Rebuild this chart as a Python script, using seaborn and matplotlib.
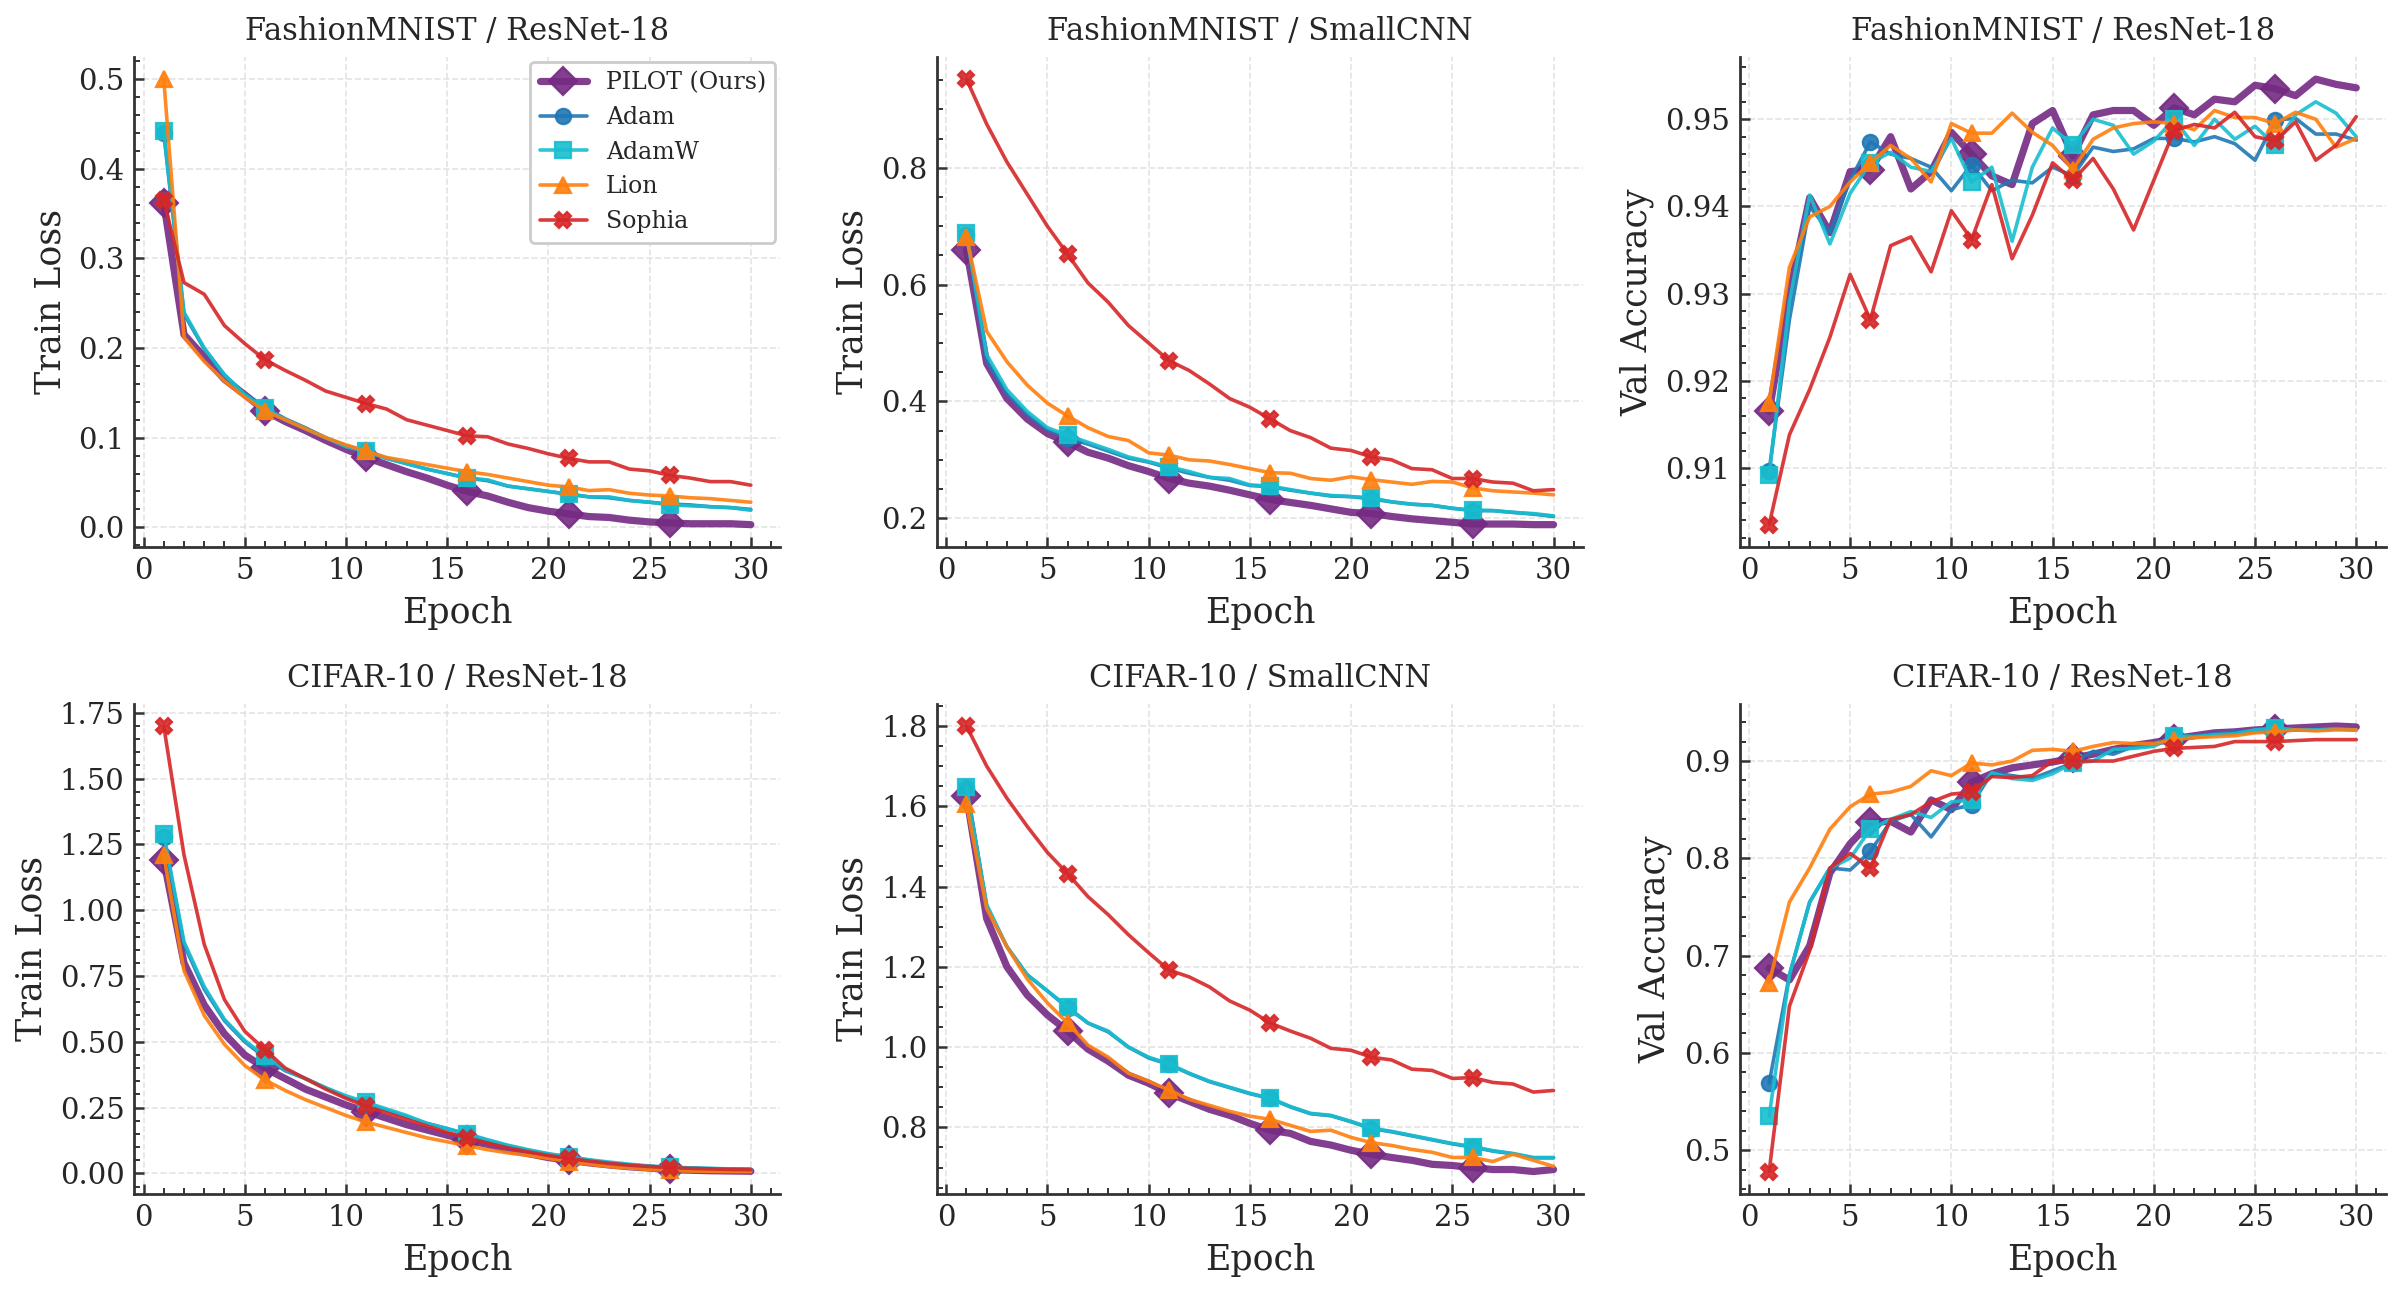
import numpy as np
import matplotlib
matplotlib.use("Agg")
import matplotlib.pyplot as plt
import seaborn as sns
from matplotlib.ticker import AutoMinorLocator

sns.set_theme(style="ticks")
plt.rcParams['font.family'] = ['DejaVu Serif']
plt.rcParams['mathtext.fontset'] = 'dejavuserif'

epochs = np.arange(1, 31)
optimizers = ["PILOT (Ours)", "Adam", "AdamW", "Lion", "Sophia"]
colors = ["#762a83", "#1f77b4", "#17becf", "#ff7f0e", "#d62728"]
markers = ["D", "o", "s", "^", "X"]

# FashionMNIST / ResNet-18 - train loss
fm_res_loss_pilot = [0.362, 0.215, 0.19, 0.165, 0.148, 0.13, 0.118, 0.108, 0.097, 0.087,
                     0.078, 0.07, 0.062, 0.055, 0.047, 0.04, 0.035, 0.028, 0.022, 0.018,
                     0.015, 0.012, 0.011, 0.008, 0.006, 0.005, 0.004, 0.004, 0.004, 0.003]
fm_res_loss_adam = [0.44, 0.238, 0.199, 0.17, 0.149, 0.134, 0.121, 0.111, 0.1, 0.091,
                    0.085, 0.077, 0.071, 0.065, 0.06, 0.055, 0.052, 0.046, 0.043, 0.04,
                    0.037, 0.034, 0.033, 0.03, 0.028, 0.026, 0.025, 0.023, 0.022, 0.02]
fm_res_loss_adamw = [0.442, 0.24, 0.2, 0.17, 0.148, 0.133, 0.12, 0.11, 0.1, 0.09,
                     0.085, 0.077, 0.071, 0.065, 0.06, 0.055, 0.053, 0.046, 0.043, 0.04,
                     0.037, 0.034, 0.034, 0.03, 0.028, 0.025, 0.024, 0.023, 0.022, 0.019]
fm_res_loss_lion = [0.5, 0.212, 0.185, 0.163, 0.145, 0.13, 0.12, 0.11, 0.1, 0.092,
                    0.085, 0.078, 0.074, 0.07, 0.066, 0.062, 0.059, 0.055, 0.051, 0.047,
                    0.045, 0.041, 0.042, 0.038, 0.036, 0.035, 0.033, 0.032, 0.03, 0.028]
fm_res_loss_sophia = [0.365, 0.273, 0.26, 0.225, 0.205, 0.187, 0.175, 0.164, 0.152, 0.145,
                      0.138, 0.132, 0.12, 0.114, 0.108, 0.102, 0.101, 0.093, 0.088, 0.082,
                      0.077, 0.073, 0.073, 0.065, 0.063, 0.058, 0.055, 0.051, 0.051, 0.047]

# FashionMNIST / SmallCNN - train loss
fm_cnn_loss_pilot = [0.66, 0.465, 0.405, 0.37, 0.345, 0.33, 0.313, 0.303, 0.29, 0.28,
                     0.268, 0.26, 0.255, 0.248, 0.24, 0.232, 0.227, 0.222, 0.216, 0.21,
                     0.208, 0.203, 0.199, 0.196, 0.193, 0.19, 0.19, 0.19, 0.189, 0.189]
fm_cnn_loss_adam = [0.685, 0.47, 0.413, 0.378, 0.352, 0.337, 0.327, 0.315, 0.303, 0.296,
                    0.286, 0.277, 0.27, 0.265, 0.256, 0.254, 0.248, 0.243, 0.238, 0.237,
                    0.233, 0.228, 0.224, 0.222, 0.217, 0.213, 0.213, 0.21, 0.207, 0.203]
fm_cnn_loss_adamw = [0.688, 0.48, 0.42, 0.383, 0.355, 0.342, 0.33, 0.318, 0.305, 0.297,
                     0.288, 0.28, 0.27, 0.268, 0.257, 0.255, 0.249, 0.243, 0.239, 0.237,
                     0.235, 0.228, 0.224, 0.222, 0.217, 0.214, 0.213, 0.21, 0.208, 0.204]
fm_cnn_loss_lion = [0.682, 0.52, 0.468, 0.428, 0.397, 0.375, 0.355, 0.34, 0.333, 0.312,
                    0.308, 0.3, 0.298, 0.292, 0.285, 0.278, 0.277, 0.268, 0.265, 0.271,
                    0.266, 0.262, 0.258, 0.263, 0.262, 0.252, 0.247, 0.245, 0.243, 0.24]
fm_cnn_loss_sophia = [0.952, 0.875, 0.81, 0.755, 0.7, 0.652, 0.603, 0.57, 0.53, 0.5,
                      0.47, 0.453, 0.43, 0.405, 0.39, 0.37, 0.35, 0.338, 0.32, 0.316,
                      0.305, 0.3, 0.285, 0.283, 0.268, 0.268, 0.262, 0.26, 0.247, 0.249]

# FashionMNIST / ResNet-18 - val accuracy
fm_res_acc_pilot = [0.9165, 0.930, 0.941, 0.937, 0.944, 0.9442, 0.948, 0.942, 0.944, 0.9485,
                    0.946, 0.9435, 0.9425, 0.9495, 0.951, 0.9458, 0.9505, 0.951, 0.951, 0.9493,
                    0.9513, 0.9505, 0.9523, 0.952, 0.9539, 0.9535, 0.9527, 0.9546, 0.954, 0.9536]
fm_res_acc_adam = [0.9097, 0.927, 0.940, 0.937, 0.943, 0.9474, 0.946, 0.9455, 0.9445, 0.9418,
                   0.9448, 0.9418, 0.943, 0.9427, 0.9445, 0.9435, 0.9468, 0.9463, 0.9466, 0.9478,
                   0.9478, 0.9474, 0.948, 0.9472, 0.9453, 0.9499, 0.9501, 0.9483, 0.9483, 0.9476]
fm_res_acc_adamw = [0.9092, 0.929, 0.9413, 0.9357, 0.9415, 0.945, 0.9462, 0.9445, 0.944, 0.9478,
                    0.9428, 0.9445, 0.936, 0.9445, 0.949, 0.947, 0.950, 0.9493, 0.946, 0.9475,
                    0.950, 0.947, 0.950, 0.9477, 0.9492, 0.947, 0.9505, 0.952, 0.9507, 0.948]
fm_res_acc_lion = [0.9175, 0.933, 0.9388, 0.940, 0.9428, 0.945, 0.947, 0.9455, 0.9428, 0.9495,
                   0.9484, 0.9484, 0.9507, 0.9485, 0.947, 0.9442, 0.9477, 0.949, 0.9495, 0.9497,
                   0.9495, 0.9488, 0.951, 0.9502, 0.9502, 0.9495, 0.9508, 0.950, 0.9468, 0.9478]
fm_res_acc_sophia = [0.9035, 0.9138, 0.919, 0.925, 0.9322, 0.927, 0.9355, 0.9365, 0.9325, 0.9395,
                     0.9362, 0.9425, 0.934, 0.939, 0.945, 0.943, 0.9455, 0.942, 0.9373, 0.943,
                     0.9487, 0.9494, 0.949, 0.9508, 0.948, 0.9475, 0.9497, 0.9453, 0.947, 0.9503]

# CIFAR-10 / ResNet-18 - train loss
c10_res_loss_pilot = [1.19, 0.8, 0.64, 0.53, 0.45, 0.4, 0.36, 0.32, 0.29, 0.26,
                      0.235, 0.21, 0.185, 0.165, 0.145, 0.125, 0.11, 0.09, 0.075, 0.06,
                      0.05, 0.04, 0.032, 0.025, 0.02, 0.015, 0.012, 0.01, 0.009, 0.008]
c10_res_loss_adam = [1.28, 0.87, 0.7, 0.58, 0.5, 0.44, 0.39, 0.36, 0.325, 0.29,
                     0.265, 0.24, 0.215, 0.19, 0.17, 0.148, 0.125, 0.105, 0.088, 0.073,
                     0.062, 0.05, 0.04, 0.032, 0.026, 0.022, 0.02, 0.018, 0.016, 0.015]
c10_res_loss_adamw = [1.29, 0.88, 0.71, 0.585, 0.505, 0.445, 0.395, 0.36, 0.325, 0.295,
                      0.27, 0.245, 0.22, 0.19, 0.17, 0.15, 0.128, 0.107, 0.09, 0.075,
                      0.063, 0.052, 0.043, 0.035, 0.028, 0.024, 0.021, 0.019, 0.017, 0.016]
c10_res_loss_lion = [1.21, 0.77, 0.6, 0.49, 0.41, 0.355, 0.315, 0.28, 0.25, 0.22,
                     0.195, 0.175, 0.155, 0.135, 0.12, 0.105, 0.09, 0.078, 0.068, 0.057,
                     0.045, 0.035, 0.026, 0.02, 0.015, 0.011, 0.009, 0.008, 0.007, 0.007]
c10_res_loss_sophia = [1.70, 1.21, 0.87, 0.66, 0.54, 0.47, 0.4, 0.36, 0.32, 0.285,
                       0.255, 0.23, 0.205, 0.18, 0.155, 0.135, 0.115, 0.097, 0.082, 0.068,
                       0.057, 0.047, 0.038, 0.031, 0.026, 0.022, 0.019, 0.017, 0.015, 0.014]

# CIFAR-10 / SmallCNN - train loss
c10_cnn_loss_pilot = [1.625, 1.32, 1.2, 1.13, 1.08, 1.04, 0.995, 0.965, 0.93, 0.91,
                      0.885, 0.865, 0.845, 0.83, 0.81, 0.793, 0.785, 0.765, 0.756, 0.743,
                      0.733, 0.725, 0.718, 0.708, 0.705, 0.7, 0.695, 0.695, 0.69, 0.695]
c10_cnn_loss_adam = [1.645, 1.35, 1.25, 1.18, 1.14, 1.098, 1.06, 1.038, 1.0, 0.973,
                     0.957, 0.934, 0.914, 0.899, 0.884, 0.872, 0.851, 0.834, 0.829, 0.814,
                     0.797, 0.789, 0.779, 0.769, 0.759, 0.751, 0.741, 0.734, 0.724, 0.724]
c10_cnn_loss_adamw = [1.648, 1.355, 1.25, 1.18, 1.14, 1.1, 1.06, 1.04, 1.0, 0.975,
                      0.958, 0.935, 0.915, 0.9, 0.885, 0.873, 0.852, 0.835, 0.83, 0.815,
                      0.798, 0.79, 0.78, 0.77, 0.76, 0.752, 0.742, 0.735, 0.725, 0.725]
c10_cnn_loss_lion = [1.605, 1.345, 1.25, 1.17, 1.11, 1.06, 1.005, 0.975, 0.935, 0.915,
                     0.893, 0.87, 0.855, 0.84, 0.828, 0.82, 0.805, 0.79, 0.793, 0.775,
                     0.762, 0.755, 0.745, 0.738, 0.725, 0.725, 0.715, 0.733, 0.718, 0.703]
c10_cnn_loss_sophia = [1.8, 1.7, 1.62, 1.55, 1.485, 1.432, 1.375, 1.33, 1.28, 1.235,
                       1.192, 1.175, 1.15, 1.115, 1.092, 1.06, 1.04, 1.022, 0.997, 0.992,
                       0.975, 0.968, 0.945, 0.942, 0.922, 0.924, 0.912, 0.908, 0.888, 0.892]

# CIFAR-10 / ResNet-18 - val accuracy
c10_res_acc_pilot = [0.687, 0.675, 0.71, 0.785, 0.815, 0.837, 0.838, 0.827, 0.86, 0.85,
                     0.878, 0.887, 0.893, 0.896, 0.899, 0.903, 0.907, 0.912, 0.916, 0.919,
                     0.923, 0.926, 0.929, 0.93, 0.932, 0.933, 0.934, 0.935, 0.936, 0.935]
c10_res_acc_adam = [0.569, 0.68, 0.755, 0.79, 0.788, 0.807, 0.838, 0.845, 0.822, 0.85,
                    0.855, 0.888, 0.885, 0.882, 0.89, 0.898, 0.91, 0.907, 0.915, 0.918,
                    0.925, 0.926, 0.928, 0.93, 0.931, 0.934, 0.932, 0.932, 0.933, 0.932]
c10_res_acc_adamw = [0.535, 0.68, 0.755, 0.79, 0.8, 0.83, 0.84, 0.848, 0.842, 0.858,
                     0.86, 0.888, 0.882, 0.88, 0.887, 0.898, 0.9, 0.912, 0.913, 0.915,
                     0.926, 0.925, 0.927, 0.928, 0.932, 0.934, 0.932, 0.932, 0.933, 0.932]
c10_res_acc_lion = [0.672, 0.755, 0.79, 0.83, 0.853, 0.866, 0.868, 0.874, 0.89, 0.885,
                    0.898, 0.896, 0.9, 0.911, 0.912, 0.91, 0.915, 0.919, 0.918, 0.918,
                    0.922, 0.924, 0.925, 0.926, 0.929, 0.93, 0.932, 0.931, 0.932, 0.932]
c10_res_acc_sophia = [0.478, 0.648, 0.705, 0.79, 0.805, 0.79, 0.84, 0.845, 0.858, 0.866,
                      0.868, 0.884, 0.883, 0.885, 0.9, 0.9, 0.9, 0.9, 0.905, 0.91,
                      0.913, 0.914, 0.915, 0.92, 0.92, 0.92, 0.921, 0.922, 0.922, 0.922]

panels = [
    ("FashionMNIST / ResNet-18", "Train Loss",
     [fm_res_loss_pilot, fm_res_loss_adam, fm_res_loss_adamw, fm_res_loss_lion, fm_res_loss_sophia]),
    ("FashionMNIST / SmallCNN", "Train Loss",
     [fm_cnn_loss_pilot, fm_cnn_loss_adam, fm_cnn_loss_adamw, fm_cnn_loss_lion, fm_cnn_loss_sophia]),
    ("FashionMNIST / ResNet-18", "Val Accuracy",
     [fm_res_acc_pilot, fm_res_acc_adam, fm_res_acc_adamw, fm_res_acc_lion, fm_res_acc_sophia]),
    ("CIFAR-10 / ResNet-18", "Train Loss",
     [c10_res_loss_pilot, c10_res_loss_adam, c10_res_loss_adamw, c10_res_loss_lion, c10_res_loss_sophia]),
    ("CIFAR-10 / SmallCNN", "Train Loss",
     [c10_cnn_loss_pilot, c10_cnn_loss_adam, c10_cnn_loss_adamw, c10_cnn_loss_lion, c10_cnn_loss_sophia]),
    ("CIFAR-10 / ResNet-18", "Val Accuracy",
     [c10_res_acc_pilot, c10_res_acc_adam, c10_res_acc_adamw, c10_res_acc_lion, c10_res_acc_sophia]),
]

fig, axes = plt.subplots(2, 3, figsize=(12, 6.46), dpi=200)
fig.subplots_adjust(left=0.056, right=0.994, top=0.956, bottom=0.076, wspace=0.243, hspace=0.32)

for ax, (title, ylabel, series) in zip(axes.flat, panels):
    for i, (name, vals) in enumerate(zip(optimizers, series)):
        is_ours = i == 0
        sns.lineplot(x=epochs, y=vals, ax=ax, color=colors[i], marker=markers[i],
                     markevery=5, lw=2.6 if is_ours else 1.3,
                     markersize=7 if is_ours else 5.5, markeredgewidth=0.8,
                     markeredgecolor=colors[i], alpha=0.9, label=name, legend=False)
    ax.set_title(title, fontsize=11)
    ax.set_xlabel("Epoch", fontsize=12.5)
    ax.set_ylabel(ylabel, fontsize=12.5)
    ax.set_xticks([0, 5, 10, 15, 20, 25, 30])
    ax.xaxis.set_minor_locator(AutoMinorLocator())
    ax.yaxis.set_minor_locator(AutoMinorLocator())
    ax.tick_params(which='both', direction='in', labelsize=10.5, color='#333333')
    ax.tick_params(which='major', length=3.5, width=0.9)
    ax.tick_params(which='minor', length=2, width=0.7)
    ax.grid(True, which='major', ls='--', lw=0.6, color='#dddddd', alpha=0.8)
    for side in ['top', 'right']:
        ax.spines[side].set_visible(False)
    for side in ['left', 'bottom']:
        ax.spines[side].set_color('#333333')
        ax.spines[side].set_linewidth(1.0)

axes[0, 0].legend(loc='upper right', fontsize=8.5, frameon=True, fancybox=True,
                  edgecolor='#cccccc', framealpha=1.0, borderaxespad=0.2, handlelength=2.0)

fig.savefig("out.png", dpi=200)
